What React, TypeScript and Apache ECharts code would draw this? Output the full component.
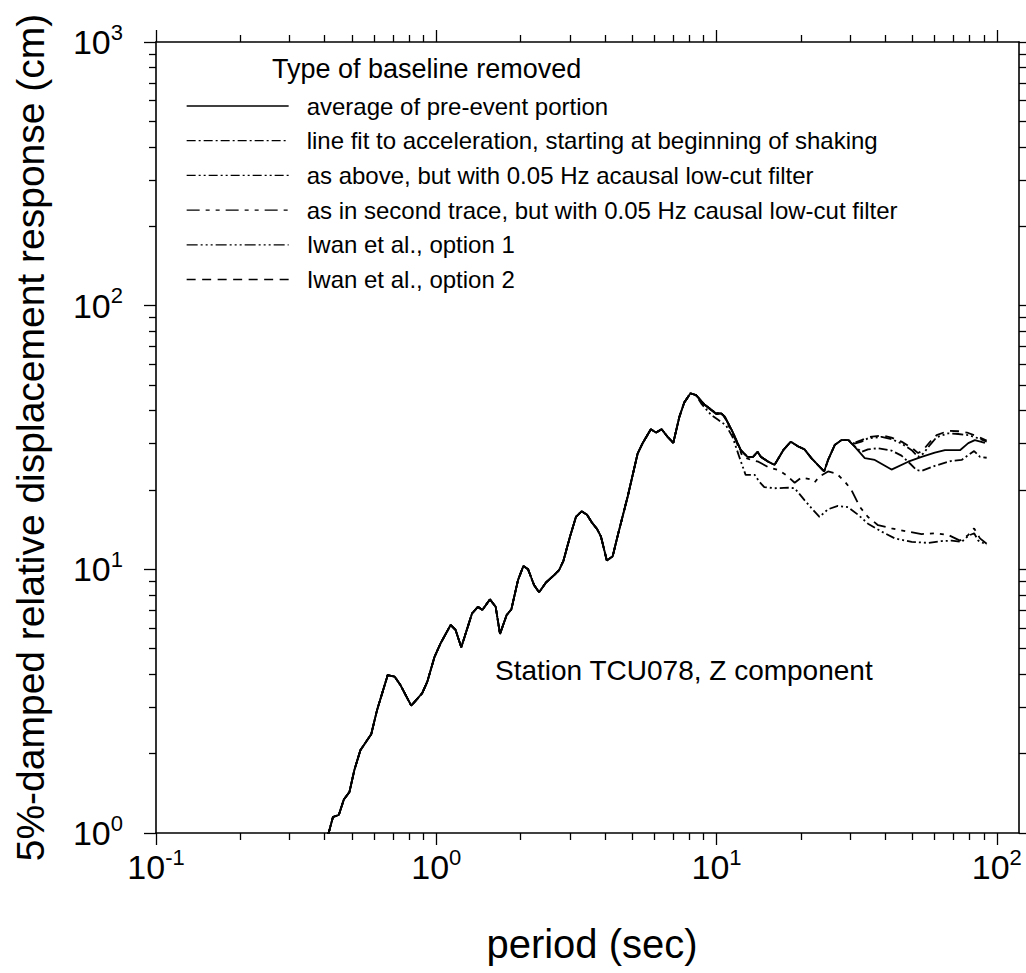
import React, { useEffect, useRef } from 'react';
import * as echarts from 'echarts';

const FONT = '"Liberation Sans", Arial, Helvetica, sans-serif';

// ---------- data (period in s, response in cm) ----------
const periodsCommon = [0.405, 0.413, 0.428, 0.449, 0.468, 0.49, 0.51, 0.536, 0.586, 0.615, 0.671, 0.71, 0.745, 0.814, 0.891, 0.929, 0.986, 1.036, 1.125, 1.172, 1.228, 1.342, 1.408, 1.46, 1.554, 1.629, 1.688, 1.783, 1.853, 1.957, 2.046, 2.126, 2.233, 2.328, 2.459, 2.634, 2.744, 2.844, 3.0, 3.15, 3.3, 3.45, 3.6, 3.75, 3.87, 4.06, 4.26, 4.43, 4.82, 5.23, 5.45, 5.83, 6.08, 6.37, 6.69, 7.01, 7.37, 7.67, 8.07, 8.45];
const responseCommon = [0.96, 1.0, 1.15, 1.17, 1.34, 1.43, 1.73, 2.06, 2.37, 2.93, 3.97, 3.92, 3.64, 3.04, 3.39, 3.75, 4.66, 5.24, 6.15, 5.89, 5.06, 6.81, 7.21, 7.01, 7.69, 7.21, 5.69, 6.71, 7.05, 9.1, 10.3, 10.0, 8.72, 8.18, 8.9, 9.51, 9.94, 10.8, 13.3, 15.8, 16.6, 16.1, 15.0, 14.2, 13.3, 10.8, 11.2, 13.3, 18.9, 27.5, 30.1, 34.0, 33.0, 34.0, 31.8, 30.2, 37.9, 42.9, 46.5, 45.8];

const periodsMid = [9.05, 9.97, 10.4, 10.7, 11.4, 12.2, 12.9, 13.5, 14.0, 14.4, 15.3, 16.1, 17.3, 18.4, 19.5, 20.6, 21.8, 23.3, 24.2, 25.0, 26.4, 27.9, 29.5];
const responseMid = [42.2, 39.0, 39.0, 37.9, 33.3, 28.3, 26.7, 26.7, 27.9, 26.7, 25.6, 24.9, 28.3, 30.5, 29.3, 28.5, 26.4, 24.5, 23.5, 26.0, 29.6, 30.9, 30.9];

const periodsSolidEnd = [31.1, 33.8, 36.7, 42.1, 48.3, 53.9, 60.1, 65.3, 73.9, 79.1, 83.5, 90.7];
const responseSolidEnd = [29.2, 26.4, 26.0, 23.9, 25.6, 26.7, 27.7, 28.3, 28.3, 30.1, 30.9, 30.2];

const periodsLineFitEnd = [31.1, 32.9, 34.7, 37.7, 42.1, 45.7, 49.0, 51.7, 53.9, 60.1, 69.0, 74.9, 79.1, 83.0, 87.1, 92];
const responseLineFitEnd = [29.3, 27.9, 28.5, 28.8, 28.2, 27.0, 25.2, 23.8, 23.6, 24.7, 25.8, 26.0, 27.1, 28.1, 26.7, 26.5];

const periodsAcausal = [8.81, 9.57, 10.1, 10.8, 11.4, 12.1, 12.7, 13.7, 14.2, 14.8, 16.1, 18.0, 19.0, 20.6, 22.1, 23.3, 25.0, 27.1, 29.5, 32.0, 34.7, 38.8, 43.3, 49.7, 57.0, 63.5, 69.0, 74.9, 79.1, 83.0, 85.9, 92];
const responseAcausal = [42.6, 38.5, 37.0, 35.2, 31.8, 26.4, 22.8, 22.8, 21.5, 20.5, 20.3, 20.4, 20.3, 18.3, 16.8, 15.8, 16.9, 17.4, 17.2, 16.1, 14.9, 13.9, 13.1, 12.7, 12.6, 12.8, 12.85, 12.7, 13.4, 13.7, 12.85, 12.4];

const periodsCausal = [9.05, 9.97, 10.4, 10.7, 11.6, 12.4, 13.3, 14.1, 15.3, 16.6, 17.7, 19.0, 20.1, 21.5, 22.4, 23.3, 25.0, 26.8, 28.7, 30.3, 32.4, 34.7, 37.7, 42.1, 48.3, 53.9, 60.1, 67.1, 73.9, 79.1, 83.0, 87.1, 92];
const responseCausal = [42.0, 38.8, 38.8, 37.6, 31.5, 26.7, 26.0, 25.6, 24.4, 23.8, 22.8, 21.3, 22.3, 22.0, 21.4, 22.5, 23.5, 23.1, 21.5, 20.0, 17.3, 15.8, 14.7, 14.3, 13.9, 13.6, 13.7, 13.5, 12.85, 13.5, 14.3, 13.1, 12.5];

const periodsIwan1End = [31.1, 32.9, 34.7, 38.8, 42.1, 45.7, 49.7, 52.4, 54.7, 57.7, 61.0, 67.1, 72.8, 79.1, 85.9, 92];
const responseIwan1End = [30.0, 30.5, 31.4, 31.8, 31.2, 30.0, 28.3, 26.7, 27.5, 29.6, 31.7, 32.8, 32.6, 32.3, 31.4, 30.5];

const periodsIwan2End = [31.1, 32.9, 34.7, 38.8, 42.1, 45.7, 49.7, 52.4, 54.7, 57.7, 61.0, 67.1, 72.8, 79.1, 85.9, 92];
const responseIwan2End = [30.2, 30.9, 31.7, 32.2, 31.6, 30.5, 28.9, 27.6, 28.4, 30.4, 32.3, 33.5, 33.4, 32.9, 31.8, 30.8];

const seriesNames = [
  'average of pre-event portion',
  'line fit to acceleration, starting at beginning of shaking',
  'as above, but with 0.05 Hz acausal low-cut filter',
  'as in second trace, but with 0.05 Hz causal low-cut filter',
  'Iwan et al., option 1',
  'Iwan et al., option 2',
];
const dashPatterns: (number[] | 'solid')[] = [
  'solid',
  [9, 3, 2, 3],
  [9, 3, 2, 3, 2, 3],
  [13, 6, 4, 6, 4, 6],
  [11, 3, 2, 3, 2, 3, 2, 3],
  [9, 6.5],
];

const legendTitle = 'Type of baseline removed';
const stationLabel = 'Station TCU078, Z component';
const xAxisTitle = 'period (sec)';
const yAxisTitle = '5%-damped relative displacement response (cm)';

const X_MIN = 0.1;
const X_MAX = 120;
const Y_MIN = 1;
const Y_MAX = 1000;
const xMajorTicks = [0.1, 1, 10, 100];
const xMinorTicks = [0.2, 0.3, 0.4, 0.5, 0.6, 0.7, 0.8, 0.9, 2, 3, 4, 5, 6, 7, 8, 9, 20, 30, 40, 50, 60, 70, 80, 90];
const yMajorTicks = [1, 10, 100, 1000];
const yMinorTicks = [2, 3, 4, 5, 6, 7, 8, 9, 20, 30, 40, 50, 60, 70, 80, 90, 200, 300, 400, 500, 600, 700, 800, 900];

const zip = (xs: number[], ys: number[]) => xs.map((x, i) => [x, ys[i]]);

const common = zip(periodsCommon, responseCommon);
const mid = zip(periodsMid, responseMid);
const seriesData = [
  [...common, ...mid, ...zip(periodsSolidEnd, responseSolidEnd)],
  [...common, ...mid, ...zip(periodsLineFitEnd, responseLineFitEnd)],
  [...common, ...zip(periodsAcausal, responseAcausal)],
  [...common, ...zip(periodsCausal, responseCausal)],
  [...common, ...mid, ...zip(periodsIwan1End, responseIwan1End)],
  [...common, ...mid, ...zip(periodsIwan2End, responseIwan2End)],
];

const powLabel = (v: number) => {
  const e = Math.round(Math.log10(v));
  return `{b|10}{s|${e}}`;
};
const richPow = {
  b: { fontSize: 34, fontFamily: FONT, color: '#000', lineHeight: 34, verticalAlign: 'bottom' },
  s: { fontSize: 22, fontFamily: FONT, color: '#000', lineHeight: 22, verticalAlign: 'bottom', padding: [0, 0, 16, 0] },
};

const lineStyleAxis = { color: '#000', width: 1.6 };
const tickStyle = { color: '#000', width: 1.3 };

function makeAxis(kind: 'x' | 'y', position: string, ticks: number[], len: number, showLine: boolean, labels: boolean, extra: any = {}) {
  return {
    type: 'log',
    logBase: 10,
    gridIndex: 0,
    position,
    min: kind === 'x' ? X_MIN : Y_MIN,
    max: kind === 'x' ? X_MAX : Y_MAX,
    axisLine: { show: showLine, onZero: false, lineStyle: lineStyleAxis },
    axisTick: { show: true, inside: false, length: len, customValues: ticks, lineStyle: tickStyle },
    axisLabel: labels
      ? {
          show: true,
          customValues: ticks,
          formatter: powLabel,
          rich: richPow,
          margin: kind === 'x' ? 17 : 33,
        }
      : { show: false },
    splitLine: { show: false },
    minorTick: { show: false },
    ...extra,
  };
}

export default function App() {
  const ref = useRef<HTMLDivElement>(null);
  useEffect(() => {
    if (!ref.current) return;
    const chart = echarts.init(ref.current, null, { renderer: 'svg' });
    const option: any = {
      animation: false,
      backgroundColor: '#fff',
      textStyle: { fontFamily: FONT, color: '#000' },
      title: {
        text: legendTitle,
        left: 272,
        top: 55,
        padding: 0,
        textStyle: { fontFamily: FONT, fontSize: 27, fontWeight: 'normal', color: '#000', lineHeight: 27 },
      },
      legend: {
        orient: 'vertical',
        left: 186,
        top: 94,
        padding: 0,
        itemWidth: 102,
        itemHeight: 14,
        itemGap: 10.7,
        selectedMode: false,
        data: seriesNames,
        itemStyle: { opacity: 0 },
        lineStyle: { width: 1.3 },
        textStyle: { fontFamily: FONT, fontSize: 24, color: '#000', lineHeight: 24, padding: [0, 0, 0, 13] },
      },
      grid: { left: 156, top: 42, right: 7, bottom: 140, containLabel: false },
      xAxis: [
        makeAxis('x', 'bottom', xMajorTicks, 12, true, true, {
          name: xAxisTitle,
          nameLocation: 'middle',
          nameGap: 91,
          nameTextStyle: { fontFamily: FONT, fontSize: 40, color: '#000', padding: [0, 0, 0, 9] },
        }),
        makeAxis('x', 'bottom', xMinorTicks, 7, false, false),
        makeAxis('x', 'top', xMajorTicks, 12, true, false),
        makeAxis('x', 'top', xMinorTicks, 7, false, false),
      ],
      yAxis: [
        makeAxis('y', 'left', yMajorTicks, 12, true, true, {
          name: yAxisTitle,
          nameLocation: 'middle',
          nameGap: 106,
          nameTextStyle: { fontFamily: FONT, fontSize: 39, color: '#000' },
        }),
        makeAxis('y', 'left', yMinorTicks, 7, false, false),
        makeAxis('y', 'right', yMajorTicks, 12, true, false),
        makeAxis('y', 'right', yMinorTicks, 7, false, false),
      ],
      graphic: [
        {
          type: 'text',
          left: 495,
          top: 656,
          style: { text: stationLabel, fontFamily: FONT, fontSize: 28, fill: '#000' },
        },
      ],
      series: seriesNames.map((name, i) => ({
        name,
        type: 'line',
        xAxisIndex: 0,
        yAxisIndex: 0,
        symbol: 'none',
        showSymbol: false,
        clip: true,
        data: seriesData[i],
        color: '#000',
        lineStyle: { color: '#000', width: 1.8, type: dashPatterns[i] },
        emphasis: { disabled: true },
      })),
    };
    chart.setOption(option);
    return () => chart.dispose();
  }, []);
  return <div ref={ref} style={{ position: 'absolute', left: 0, top: 0, width: 1026, height: 973 }} />;
}
